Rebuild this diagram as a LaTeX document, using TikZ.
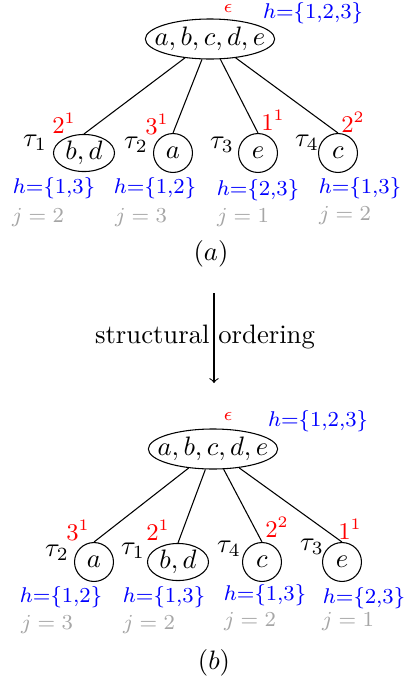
\documentclass[tikz,border=0pt]{standalone}
\usetikzlibrary{shapes.geometric}
\begin{document}
\begin{tikzpicture}[x=0.375pt,y=-0.375pt,
  lab/.style={inner sep=0pt},
  root/.style={draw,ellipse,inner sep=0pt,minimum width=48.5pt,minimum height=15pt},
  pair/.style={draw,ellipse,inner sep=0pt,minimum width=22.9pt,minimum height=13.9pt},
  single/.style={draw,circle,inner sep=0pt,minimum size=14.6pt},
  redlab/.style={lab,text=red,font=\small},
  eps/.style={lab,text=red,font=\scriptsize},
  hlab/.style={lab,text=blue,font=\footnotesize},
  jlab/.style={lab,text=black!35,font=\footnotesize},
  edge/.style={draw,thin}]
\useasboundingbox (0,0) rectangle (407,683);
% ---------- (a) ----------
\node[root] (ra) at (210,39) {\makebox[0pt]{$a,b,c,d,e$}};
\node[eps] (epsa) at (228,8) {$\epsilon$};
\node[hlab] (hra) at (313,13) {$h$=\{1,2,3\}};
\node[pair] (a1) at (84,153) {\makebox[0pt]{$b,d$}};
\node[single] (a2) at (173,153) {$a$};
\node[single] (a3) at (258,153) {$e$};
\node[single] (a4) at (338,153) {$c$};
\foreach \c in {a1,a2,a3,a4} \draw[edge] (ra) -- (\c.north);
\node[redlab] at (64,123) {$2^1$};
\node[redlab] at (157,124) {$3^1$};
\node[redlab] at (273,120) {$1^1$};
\node[redlab] at (353,122) {$2^2$};
\node[lab] at (35,143) {$\tau_1$};
\node[lab] at (136,145) {$\tau_2$};
\node[lab] at (222,145) {$\tau_3$};
\node[lab] at (307,143) {$\tau_4$};
\node[hlab] at (54,188) {$h$=\{1,3\}};
\node[hlab] at (155,188) {$h$=\{1,2\}};
\node[hlab] at (258,190) {$h$=\{2,3\}};
\node[hlab] at (360,188) {$h$=\{1,3\}};
\node[jlab] at (38,218) {$j=2$};
\node[jlab] at (141,218) {$j=3$};
\node[jlab] at (243,218) {$j=1$};
\node[jlab] at (345,216) {$j=2$};
\node[lab] (capa) at (211,254) {$(a)$};
% ---------- arrow ----------
\coordinate (as) at (214,293);
\coordinate (ae) at (214,383);
\draw[->] (as) -- (ae);
\node[lab] (so) at (205,337) {structural ordering};
% ---------- (b) ----------
\node[root] (rb) at (213,449) {\makebox[0pt]{$a,b,c,d,e$}};
\node[eps] (epsb) at (228,416) {$\epsilon$};
\node[hlab] (hrb) at (318,421) {$h$=\{1,2,3\}};
\node[single] (b1) at (94,562) {$a$};
\node[pair] (b2) at (178,562) {\makebox[0pt]{$b,d$}};
\node[single] (b3) at (262,562) {$c$};
\node[single] (b4) at (342,562) {$e$};
\foreach \c in {b1,b2,b3,b4} \draw[edge] (rb) -- (\c.north);
\node[redlab] at (78,530) {$3^1$};
\node[redlab] at (158,530) {$2^1$};
\node[redlab] at (277,527) {$2^2$};
\node[redlab] at (350,529) {$1^1$};
\node[lab] at (57,553) {$\tau_2$};
\node[lab] at (133,551) {$\tau_1$};
\node[lab] at (229,549) {$\tau_4$};
\node[lab] at (312,547) {$\tau_3$};
\node[hlab] at (61,597) {$h$=\{1,2\}};
\node[hlab] at (164,597) {$h$=\{1,3\}};
\node[hlab] at (265,595) {$h$=\{1,3\}};
\node[hlab] at (364,598) {$h$=\{2,3\}};
\node[jlab] at (47,625) {$j=3$};
\node[jlab] at (149,625) {$j=2$};
\node[jlab] at (250,622) {$j=2$};
\node[jlab] at (348,622) {$j=1$};
\node[lab] (capb) at (214,663) {$(b)$};
\end{tikzpicture}
\end{document}
